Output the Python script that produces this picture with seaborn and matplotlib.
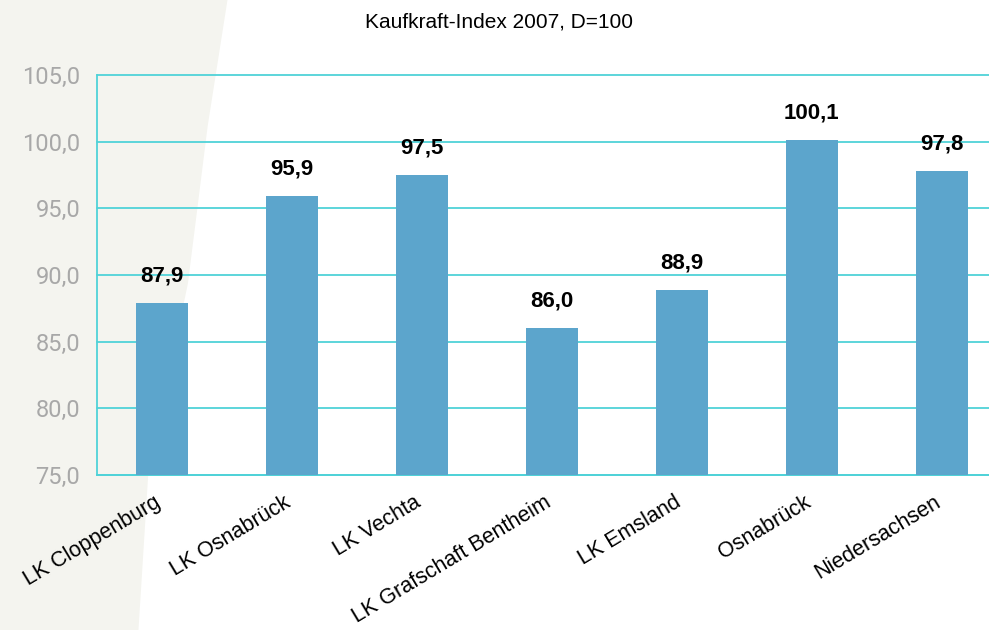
import seaborn as sns
import matplotlib.pyplot as plt
import matplotlib.transforms as mtransforms
import pandas as pd
from matplotlib.patches import Polygon

# Data
regions = ["LK Cloppenburg", "LK Osnabrück", "LK Vechta", "LK Grafschaft Bentheim",
           "LK Emsland", "Osnabrück", "Niedersachsen"]
index_values = [87.9, 95.9, 97.5, 86.0, 88.9, 100.1, 97.8]
y_ticks = [75, 80, 85, 90, 95, 100, 105]

df = pd.DataFrame({"region": regions, "value": index_values})

sns.set_theme(style="white")
plt.rcParams['font.family'] = ['Liberation Sans', 'DejaVu Sans']

teal = "#4FD2D8"
bar_color = "#5CA5CC"

fig = plt.figure(figsize=(9.89, 6.3), dpi=100)
fig.patch.set_facecolor("white")

# faint cream band on the left, on a background axes
bg = fig.add_axes([0, 0, 1, 1], zorder=-1)
bg.set_axis_off()
bg.set_xlim(0, 1)
bg.set_ylim(0, 1)
bg.add_patch(Polygon([(0, 0), (0.14, 0), (0.15, 0.25), (0.19, 0.55), (0.21, 0.8),
                      (0.23, 1.0), (0, 1.0)], closed=True,
                     facecolor="#F4F4EF", edgecolor="none"))

ax = fig.add_axes([0.098, 0.246, 0.920, 0.635])
ax.set_facecolor("none")
sns.barplot(data=df, x="region", y="value", color=bar_color, width=0.4,
            saturation=1, linewidth=0, ax=ax, zorder=3)

ax.set_ylim(75, 105)
ax.set_xlim(-0.5, len(regions) - 0.5)
ax.set_yticks(y_ticks)
ax.set_yticklabels([f"{v:.1f}".replace(".", ",") for v in y_ticks],
                   color="#A8A8A8", fontsize=17, family=['Roboto', 'DejaVu Sans'])
ax.yaxis.grid(True, color=teal, linewidth=1.3, zorder=0, clip_on=False)
ax.set_axisbelow(True)

for s in ["top", "right"]:
    ax.spines[s].set_visible(False)
for s in ["left", "bottom"]:
    ax.spines[s].set_color(teal)
    ax.spines[s].set_linewidth(1.3)

# ticks at category boundaries
ax.set_xticks([i - 0.5 for i in range(len(regions) + 1)], minor=True)
ax.tick_params(axis="x", which="minor", length=7, color=teal, width=1.3, direction="out")
ax.tick_params(axis="x", which="major", length=0, pad=12)
ax.tick_params(axis="y", length=8, color=teal, width=1.3, direction="out", pad=4)

ax.set_xticks(range(len(regions)))
ax.set_xticklabels(regions, rotation=31, ha="right", rotation_mode="anchor",
                   fontsize=15.5, color="black")
shift = mtransforms.ScaledTranslation(-8 / 100, 0, fig.dpi_scale_trans)
for lbl in ax.get_xticklabels():
    lbl.set_transform(lbl.get_transform() + shift)
ax.set_xlabel("")
ax.set_ylabel("")

for i, v in enumerate(index_values):
    ax.text(i, v + 1.6, f"{v:.1f}".replace(".", ","), ha="center", va="baseline",
            fontsize=16, fontweight="bold", color="black")

fig.text(0.505, 0.965, "Kaufkraft-Index 2007, D=100", ha="center", va="center",
         fontsize=15, color="black")

fig.savefig("out.png", dpi=100)
